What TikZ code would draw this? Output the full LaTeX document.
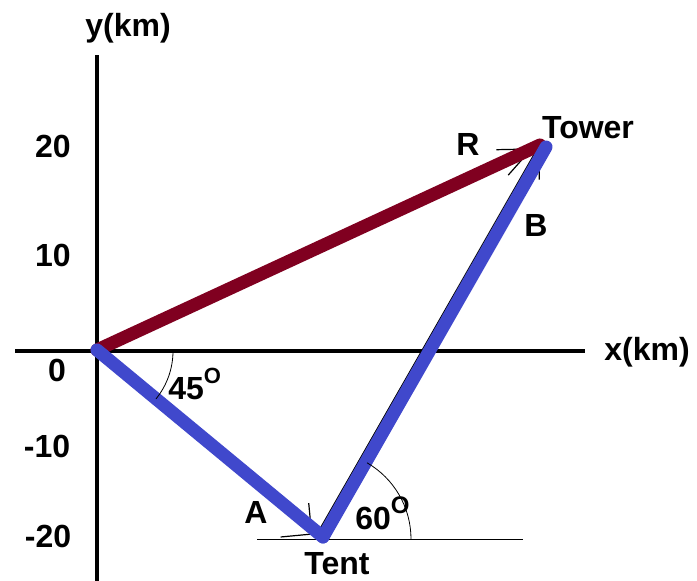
\documentclass[tikz,border=0pt]{standalone}
\usepackage{fontspec}
\setmainfont{Liberation Sans}
\usepackage{tikz}
\usetikzlibrary{arrows.meta,calc}
\definecolor{vecblue}{RGB}{64,72,204}
\definecolor{vecred}{RGB}{128,0,32}
\newcommand{\ringO}[1]{\raisebox{8pt}{\fontsize{#1}{#1}\selectfont O}}

\begin{document}
\begin{tikzpicture}[x=0.5pt, y=0.5pt,
    lbl/.style={font=\fontsize{16}{18}\selectfont\bfseries, inner sep=0pt},
    axis/.style={line width=2pt},
    thinvec/.style={line width=0.6pt},
    fatvec/.style={line width=6.5pt, line cap=round}]
    \useasboundingbox (0,0) rectangle (697,581);

    \coordinate (O) at (97,231);
    \coordinate (Tent) at (323,44);
    \coordinate (Tower) at (546,434);
    \coordinate (XL) at (15,230);
    \coordinate (XR) at (585,230);
    \coordinate (YB) at (97,0);
    \coordinate (YT) at (97,526);
    \coordinate (HL) at (257,42);
    \coordinate (HR) at (523,42);

    % axes
    \draw[axis] (XL) -- (XR);
    \draw[axis] (YB) -- (YT);
    \draw[thin] (HL) -- (HR);

    \node[lbl] (ylab) at (128,553) {y(km)};
    \node[lbl] (xlab) at (647,229) {x(km)};
    \node[lbl] (t20) at (53,434) {20};
    \node[lbl] (t10) at (53,325) {10};
    \node[lbl] (t0) at (57,211) {0};
    \node[lbl] (tm10) at (47,135) {-10};
    \node[lbl] (tm20) at (48,45) {-20};

    % thin vectors under the thick ones
    \draw[thinvec, shorten >=5pt, -{Straight Barb[length=11pt, width=22pt]}]
        ([shift={(-3,-4)}]O) -- ([shift={(-3,-4)}]Tent);
    \draw[thinvec, -{Straight Barb[length=15pt, width=17pt]}]
        ([shift={(-6,3)}]Tent) -- ([shift={(-6,3)}]Tower);
    \draw[thinvec, shorten >=4pt, -{Straight Barb[length=16pt, width=14pt]}]
        (O) -- ([shift={(-6,2)}]Tower);

    \draw[fatvec, vecred] (O) -- ([shift={(-6,2)}]Tower);
    \draw[fatvec, vecblue] (O) -- (Tent);
    \draw[fatvec, vecblue] (Tent) -- (Tower);

    % angles
    \draw[thin] ([shift={(76,-1)}]O) arc[start angle=0, end angle=-39, radius=38pt];
    \draw[thin] ([shift={(88,0)}]HL -| Tent) arc[start angle=0, end angle=60, radius=44pt];

    \node[lbl] (R) at (468,436) {R};
    \node[lbl] (towerlab) at (588,453) {Tower};
    \node[lbl] (B) at (536,355) {B};
    \node[lbl, anchor=base west] (a45) at (168,181) {45\ringO{11}};
    \node[lbl, anchor=base west] (A) at (244,57) {A};
    \node[lbl, anchor=base west] (a60) at (355,51) {60\ringO{12}};
    \node[lbl] (tentlab) at (337,17) {Tent};
\end{tikzpicture}
\end{document}
